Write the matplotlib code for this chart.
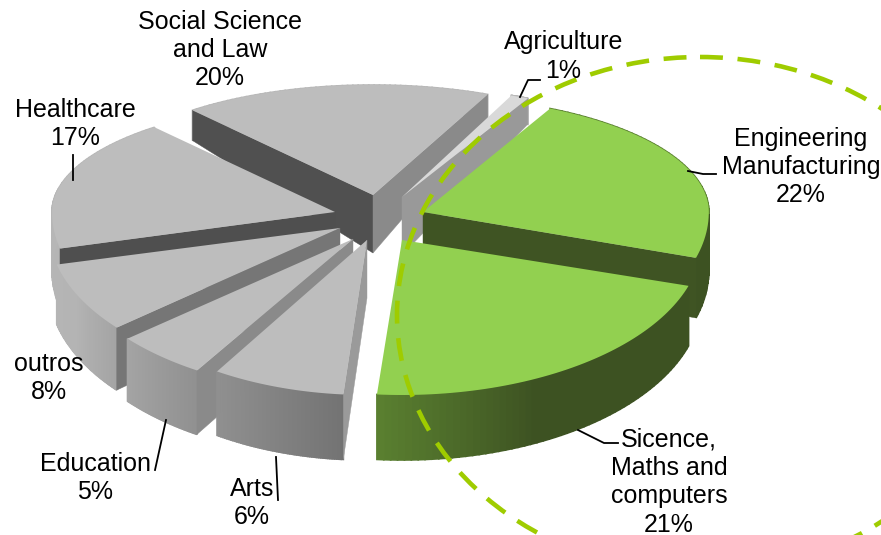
#!/usr/bin/env python3
import numpy as np
import matplotlib
matplotlib.use("Agg")
import matplotlib.pyplot as plt
from matplotlib.patches import Polygon, Ellipse

# slices run clockwise from start_angle
labels = ["Agriculture", "Engineering\nManufacturing", "Sicence,\nMaths and\ncomputers",
          "Arts", "Education", "outros", "Healthcare", "Social Science\nand Law"]
shares = [1, 22, 21, 6, 5, 8, 17, 20]

start_angle = 68.6
cx, cy = 378, 222
rx, ry_front, ry_back = 283, 155, 110
# explode offset of each slice, and its size tweaks
explode_dx = [24, 45, 24, -11, -25, -38, -43, -5]
explode_dy = [-25, -10, 18, 18, 17, 6, -10, -27]
rx_scale = [1, 1.01, 1.06, 1, 1.04, 1.03, 1, 1]
back_scale = [1, 1.05, 1, 1, 1, 1, 1, 1]

plt.rcParams["font.family"] = ["Liberation Sans", "DejaVu Sans"]
fig = plt.figure(figsize=(8.81, 5.35), dpi=100)
ax = fig.add_axes([0, 0, 1, 1])
ax.set_xlim(0, 881)
ax.set_ylim(535, 0)
ax.axis("off")


def view_angle(deg):
    # perspective pulls the angles around on screen
    return deg + np.interp(deg, [-300, -220, -160, -130, -110, -90, -14, 70],
                           [-1.5, -11, -8, -10.6, -10.6, -5, -3, -1.3])


def height(v):
    # slices look thinner towards the back
    return np.where(v >= 0, 58 - 36 * v, 58 - 7 * v)


def top_xy(apex, theta, scale, back):
    v = np.sin(theta)
    ry = np.where(v >= 0, ry_back * back, ry_front)
    return apex[0] + rx * scale * np.cos(theta), apex[1] - ry * v


def shade(name, deg):
    # colour of the outer wall, by angle
    deg = deg % 360
    if name.startswith("Sicence") or name.startswith("Engineering"):
        g = np.interp(deg, [266, 297], [0, 1])
        return tuple(np.array([0x5a, 0x80, 0x30]) / 255 * (1 - g) + np.array([0x3d, 0x52, 0x22]) / 255 * g)
    g = np.interp(deg, [150, 205, 270, 360], [0xb8, 0xb4, 0x6e, 0x8a]) / 255
    return (g, g, g)


top_cols = {"Agriculture": "#d9d9d9", "Engineering\nManufacturing": "#92d050",
            "Sicence,\nMaths and\ncomputers": "#92d050"}
# wall at the counter-clockwise cut, wall at the clockwise cut
wall_cols = {"Agriculture": ("#999999", "#999999"),
             "Engineering\nManufacturing": ("#3f5423", "#3f5423"),
             "Sicence,\nMaths and\ncomputers": ("#3f5423", "#3f5423"),
             "Arts": ("#9a9a9a", "#9a9a9a"),
             "Education": ("#8a8a8a", "#8a8a8a"),
             "outros": ("#767676", "#767676"),
             "Healthcare": ("#4f4f4f", "#4f4f4f"),
             "Social Science\nand Law": ("#505050", "#8a8a8a")}

fractions = np.array(shares) / sum(shares) * 360
ends = start_angle - np.cumsum(fractions)
starts = ends + fractions

slices = []
for name, a0, a1, dx, dy, scale, back in zip(labels, starts, ends, explode_dx, explode_dy, rx_scale, back_scale):
    a0, a1 = view_angle(a0), view_angle(a1)
    mid = np.radians((a0 + a1) / 2)
    slices.append((np.sin(mid), name, a0, a1, (cx + dx, cy + dy), scale, back))
slices.sort(key=lambda s: -s[0])

z = 2
for _, name, a0, a1, apex, scale, back in slices:
    th = np.radians(np.linspace(a0, a1, 60))
    x, y = top_xy(apex, th, scale, back)
    h = height(np.sin(th))
    h_apex = float(height(np.array(0.0)))

    # outer wall in small quads for the gradient
    degs = np.degrees(th)
    for i in range(len(th) - 1):
        col = shade(name, degs[i])
        pts = [(x[i], y[i]), (x[i + 1], y[i + 1]), (x[i + 1], y[i + 1] + h[i + 1]), (x[i], y[i] + h[i])]
        ax.add_patch(Polygon(pts, closed=True, fc=col, ec=col, lw=1.2, zorder=z))
    z += 1

    # only the cut walls that face the viewer
    walls = []
    if np.cos(th[0]) < 0:
        walls.append((th[0], wall_cols[name][0]))
    if np.cos(th[-1]) > 0:
        walls.append((th[-1], wall_cols[name][1]))
    for t, col in walls:
        rim_x, rim_y = top_xy(apex, t, scale, back)
        rim_h = float(height(np.sin(t)))
        pts = [apex, (rim_x, rim_y), (rim_x, rim_y + rim_h), (apex[0], apex[1] + h_apex)]
        ax.add_patch(Polygon(pts, closed=True, fc=col, ec=col, lw=0.3, zorder=z))
        z += 1

    top = [apex] + list(zip(x, y))
    ax.add_patch(Polygon(top, closed=True, fc=top_cols.get(name, "#bdbdbd"), ec="none", zorder=z))
    z += 1

# dashed highlight ring
ax.add_patch(Ellipse((700, 315), 606, 516, fill=False, ec="#9fcc00", lw=3.3,
                     linestyle=(0, (5.0, 3.2)), zorder=z))
z += 1

# leader lines
leaders = [
    [(520, 97), (528, 80), (540, 80)],
    [(688, 171), (703, 174), (716, 174)],
    [(578, 430), (604, 443), (618, 443)],
    [(276, 457), (278, 500)],
    [(166, 420), (155, 470)],
    [(73, 155), (73, 180)],
]
for pts in leaders:
    xs, ys = zip(*pts)
    ax.plot(xs, ys, color="black", lw=1.3, zorder=z)

# label text
texts = [
    (564, 42, "Agriculture"), (563, 71, "1%"),
    (801, 167, "Engineering\nManufacturing\n22%"),
    (669, 482, "Sicence,\nMaths and\ncomputers\n21%"),
    (252, 503, "Arts\n6%"),
    (95, 478, "Education\n5%"),
    (49, 378, "outros\n8%"),
    (75, 124, "Healthcare\n17%"),
    (220, 50, "Social Science\nand Law\n20%"),
]
for x_t, y_t, s in texts:
    ax.text(x_t, y_t, s, ha="center", va="center", ma="center", fontsize=18,
            linespacing=1.23, color="black", zorder=z + 1)

fig.savefig("out.png", dpi=100)
